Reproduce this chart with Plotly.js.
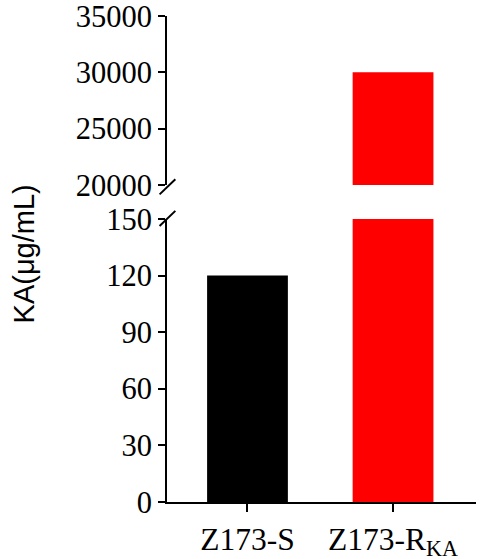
<!DOCTYPE html>
<html>
<head>
<meta charset="utf-8">
<script src="https://cdn.plot.ly/plotly-3.0.1.min.js"></script>
<style>
  html, body { margin: 0; padding: 0; background: #fff; }
  #plot { width: 480px; height: 559px; }
</style>
</head>
<body>
<div id="plot"></div>
<script>
// strains and their KA values (µg/mL)
const strains = ['Z173-S', 'Z173-R<sub>KA</sub>']
const kaValues = [120, 30000]
const barColors = ['#000000', '#ff0000']

// broken y axis: lower and upper windows
const lowRange = [0, 150]
const highRange = [20000, 35000]

const serif = 'Liberation Serif, Times New Roman, serif'

const lower = {
    x: strains,
    y: kaValues,
    type: 'bar',
    width: 0.555,
    marker: {color: barColors, line: {width: 0}},
    xaxis: 'x',
    yaxis: 'y',
    hoverinfo: 'skip'
}
const upper = {
    x: strains,
    y: kaValues,
    type: 'bar',
    width: 0.555,
    marker: {color: barColors, line: {width: 0}},
    xaxis: 'x',
    yaxis: 'y2',
    hoverinfo: 'skip'
}

function slash(y0, y1) {
    return {
        type: 'line', xref: 'paper', yref: 'paper',
        x0: -0.024, x1: 0.027, y0: y0, y1: y1,
        line: {color: '#000', width: 2}
    }
}

const axisCommon = {
    showline: true,
    linecolor: '#000',
    linewidth: 2,
    ticks: 'outside',
    ticklen: 7,
    tickwidth: 2,
    tickcolor: '#000',
    showgrid: false,
    zeroline: false,
    ticklabeloverflow: 'allow',
    tickfont: {family: serif, size: 30.5, color: '#000'},
    fixedrange: true
}

const layout = {
    width: 480,
    height: 559,
    margin: {l: 167, r: 4, t: 16, b: 57},
    paper_bgcolor: '#fff',
    plot_bgcolor: '#fff',
    showlegend: false,
    xaxis: Object.assign({}, axisCommon, {
        type: 'category',
        range: [-0.553, 1.57],
        anchor: 'y',
        ticklen: 8,
        tickfont: {family: serif, size: 31.5, color: '#000'}
    }),
    yaxis: Object.assign({}, axisCommon, {
        domain: [0, 0.5823],
        range: lowRange,
        dtick: 30,
        tick0: 0,
        anchor: 'x'
    }),
    yaxis2: Object.assign({}, axisCommon, {
        domain: [0.6523, 1],
        range: highRange,
        dtick: 5000,
        tick0: 0,
        tickformat: 'd',
        anchor: 'x'
    }),
    shapes: [slash(0.633, 0.664), slash(0.568, 0.599)],
    annotations: [{
        text: 'KA(μg/mL)',
        xref: 'paper', yref: 'paper',
        x: -0.52, y: 0.51,
        textangle: -90,
        showarrow: false,
        font: {family: 'Liberation Sans, Arial, sans-serif', size: 29, color: '#000'}
    }]
}

Plotly.newPlot('plot', [lower, upper], layout, {staticPlot: true})
</script>
</body>
</html>
